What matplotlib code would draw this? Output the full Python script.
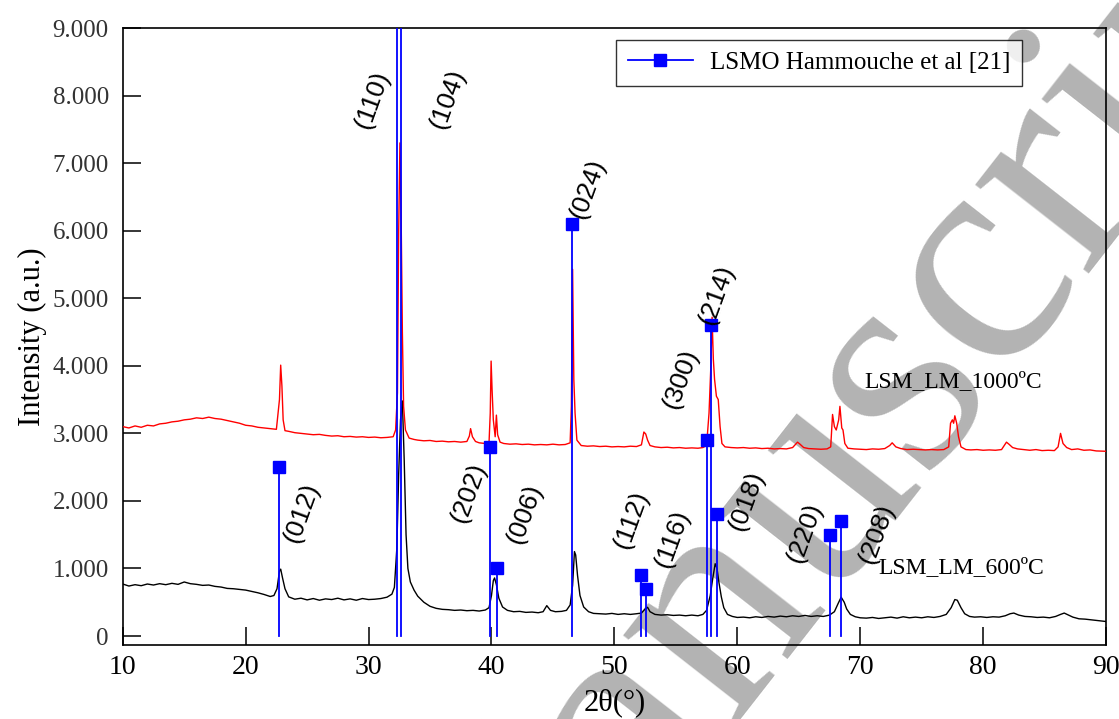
import matplotlib
matplotlib.use("Agg")
import matplotlib.pyplot as plt
from matplotlib.ticker import FuncFormatter

# LSM_LM_600ºC pattern (2theta, intensity)
two_theta_600 = [10.0, 10.5, 11.0, 11.5, 12.0, 12.5, 13.0, 13.5, 14.0, 14.5, 15.0, 15.5, 16.0, 16.5,
                 17.0, 17.5, 18.0, 18.5, 19.0, 19.5, 20.0, 20.5, 21.0, 21.5, 22.0, 22.3, 22.55, 22.75,
                 22.85, 23.0, 23.2, 23.5, 24.0, 24.5, 25.0, 25.5, 26.0, 26.5, 27.0, 27.5, 28.0, 28.5,
                 29.0, 29.5, 30.0, 30.5, 31.0, 31.5, 31.9, 32.1, 32.3, 32.45, 32.6, 32.75, 32.9, 33.05,
                 33.2, 33.4, 33.7, 34.0, 34.5, 35.0, 35.5, 36.0, 36.5, 37.0, 37.5, 38.0, 38.5, 39.0,
                 39.5, 39.8, 40.0, 40.15, 40.25, 40.4, 40.6, 40.9, 41.3, 41.8, 42.3, 42.8, 43.3, 43.8,
                 44.2, 44.5, 44.8, 45.2, 45.7, 46.1, 46.4, 46.6, 46.75, 46.85, 47.0, 47.2, 47.5, 47.9,
                 48.3, 48.8, 49.3, 49.8, 50.3, 50.8, 51.3, 51.8, 52.2, 52.5, 52.7, 52.9, 53.3, 53.8,
                 54.3, 54.8, 55.3, 55.8, 56.3, 56.8, 57.2, 57.5, 57.8, 58.0, 58.2, 58.35, 58.5, 58.7,
                 58.9, 59.2, 59.6, 60.0, 60.5, 61.0, 61.5, 62.0, 62.5, 63.0, 63.5, 64.0, 64.5, 65.0,
                 65.5, 66.0, 66.5, 67.0, 67.5, 67.9, 68.2, 68.45, 68.7, 68.9, 69.2, 69.6, 70.0, 70.5,
                 71.0, 71.5, 72.0, 72.5, 73.0, 73.5, 74.0, 74.5, 75.0, 75.5, 76.0, 76.5, 77.0, 77.4,
                 77.7, 77.9, 78.2, 78.5, 78.9, 79.3, 79.8, 80.3, 80.8, 81.3, 81.8, 82.2, 82.5, 82.9,
                 83.4, 83.9, 84.4, 84.9, 85.4, 85.9, 86.3, 86.6, 86.9, 87.3, 87.8, 88.3, 88.8, 89.3,
                 90.0]
intensity_600 = [770, 740, 760, 745, 770, 755, 775, 760, 780, 765, 800, 775, 765, 750,
                 755, 735, 725, 705, 700, 690, 680, 660, 640, 615, 585, 600, 700, 960,
                 990, 860, 700, 580, 545, 560, 535, 555, 530, 550, 540, 560, 535, 550,
                 530, 555, 540, 545, 555, 575, 620, 720, 1300, 2400, 3200, 3480, 2600, 1500,
                 1000, 800, 680, 590, 500, 440, 410, 395, 390, 380, 385, 375, 380, 370,
                 385, 420, 600, 820, 860, 760, 560, 430, 380, 360, 365, 350, 355, 345,
                 360, 450, 380, 360, 365, 380, 460, 750, 1250, 1200, 900, 600, 430, 360,
                 335, 330, 325, 335, 320, 330, 320, 330, 340, 400, 425, 360, 320, 310,
                 315, 305, 310, 300, 310, 300, 320, 380, 600, 850, 1070, 1000, 800, 580,
                 420, 320, 290, 275, 280, 270, 285, 275, 290, 280, 295, 285, 300, 290,
                 305, 290, 300, 290, 310, 360, 480, 575, 500, 400, 320, 285, 270, 265,
                 275, 260, 270, 280, 265, 285, 270, 280, 270, 285, 275, 290, 320, 420,
                 540, 530, 420, 330, 290, 280, 285, 275, 285, 280, 300, 330, 340, 310,
                 290, 285, 275, 280, 270, 290, 320, 340, 315, 280, 255, 250, 240, 230,
                 215]

# LSM_LM_1000ºC pattern
two_theta_1000 = [10.0, 10.5, 11.0, 11.5, 12.0, 12.5, 13.0, 13.5, 14.0, 14.5, 15.0, 15.5, 16.0, 16.5,
                  17.0, 17.5, 18.0, 18.5, 19.0, 19.5, 20.0, 20.5, 21.0, 21.5, 22.0, 22.5, 22.75, 22.85,
                  22.95, 23.05, 23.2, 23.5, 24.0, 24.5, 25.0, 25.5, 26.0, 26.5, 27.0, 27.5, 28.0, 28.5,
                  29.0, 29.5, 30.0, 30.5, 31.0, 31.5, 32.0, 32.2, 32.35, 32.45, 32.55, 32.65, 32.75, 32.85,
                  33.0, 33.3, 33.7, 34.0, 34.5, 35.0, 35.5, 36.0, 36.5, 37.0, 37.5, 38.0, 38.2, 38.3,
                  38.45, 38.7, 39.0, 39.5, 39.8, 39.9, 39.97, 40.05, 40.15, 40.3, 40.4, 40.5, 40.7, 41.0,
                  41.5, 42.0, 42.5, 43.0, 43.5, 44.0, 44.5, 45.0, 45.5, 46.0, 46.4, 46.5, 46.6, 46.7,
                  46.8, 46.95, 47.3, 47.8, 48.3, 48.8, 49.3, 49.8, 50.3, 50.8, 51.3, 51.8, 52.2, 52.4,
                  52.55, 52.7, 52.9, 53.3, 53.8, 54.3, 54.8, 55.3, 55.8, 56.3, 56.8, 57.2, 57.5, 57.7,
                  57.85, 57.95, 58.05, 58.15, 58.3, 58.45, 58.6, 58.75, 59.0, 59.5, 60.0, 60.5, 61.0, 61.5,
                  62.0, 62.5, 63.0, 63.5, 64.0, 64.5, 64.9, 65.1, 65.4, 65.8, 66.3, 66.8, 67.3, 67.6,
                  67.75, 67.9, 68.05, 68.25, 68.35, 68.5, 68.6, 68.75, 69.0, 69.5, 70.0, 70.5, 71.0, 71.5,
                  72.0, 72.4, 72.6, 72.9, 73.3, 73.8, 74.3, 74.8, 75.3, 75.8, 76.3, 76.8, 77.2, 77.35,
                  77.5, 77.6, 77.7, 77.85, 78.0, 78.2, 78.6, 79.0, 79.5, 80.0, 80.5, 81.0, 81.5, 81.9,
                  82.1, 82.4, 82.8, 83.3, 83.8, 84.3, 84.8, 85.3, 85.8, 86.1, 86.3, 86.5, 86.8, 87.2,
                  87.7, 88.2, 88.7, 89.2, 90.0]
intensity_1000 = [3100, 3080, 3110, 3090, 3120, 3110, 3140, 3150, 3170, 3180, 3200, 3210, 3230, 3220,
                  3240, 3220, 3210, 3190, 3170, 3150, 3120, 3110, 3090, 3080, 3070, 3060, 3500, 4010,
                  3700, 3200, 3040, 3030, 3010, 3000, 2990, 2980, 2985, 2970, 2960, 2965, 2950, 2955,
                  2945, 2950, 2940, 2945, 2935, 2940, 2950, 3050, 3600, 6000, 7300, 6200, 4500, 3400,
                  3050, 2930, 2910, 2900, 2890, 2895, 2880, 2885, 2875, 2880, 2870, 2880, 2960, 3070,
                  2950, 2880, 2860, 2850, 2860, 3300, 4070, 3640, 3200, 2950, 3270, 2980, 2870, 2850,
                  2840, 2845, 2835, 2840, 2830, 2835, 2830, 2840, 2830, 2835, 2860, 3400, 5430, 3800,
                  3300, 2900, 2820, 2810, 2815, 2805, 2810, 2800, 2805, 2800, 2810, 2805, 2830, 3020,
                  2990, 2900, 2820, 2800, 2790, 2795, 2785, 2790, 2780, 2785, 2780, 2790, 2820, 3300,
                  4000, 4720, 4100, 3800, 3550, 3500, 3100, 2850, 2800, 2790, 2785, 2790, 2780, 2785,
                  2775, 2780, 2770, 2775, 2770, 2790, 2870, 2840, 2790, 2775, 2770, 2765, 2770, 2800,
                  3280, 3100, 3050, 3200, 3400, 3080, 3050, 2850, 2780, 2770, 2765, 2760, 2770, 2765,
                  2775, 2820, 2860, 2800, 2775, 2760, 2765, 2760, 2755, 2760, 2755, 2760, 2800, 3150,
                  3200, 3150, 3260, 3150, 2950, 2800, 2760, 2755, 2760, 2750, 2755, 2750, 2760, 2870,
                  2840, 2790, 2770, 2760, 2750, 2760, 2745, 2750, 2745, 2800, 3000, 2850, 2790, 2760,
                  2770, 2750, 2755, 2740, 2735]

# reference reflections (LSMO Hammouche et al)
ref_pos = [22.73, 32.33, 32.60, 39.86, 40.41, 46.59, 52.20, 52.60, 57.50, 57.83, 58.34, 67.56, 68.40]
ref_int = [2500, 10000, 10000, 2800, 1000, 6100, 900, 700, 2900, 4600, 1800, 1500, 1700]

# hkl labels and where they sit
hkl_labels = ["(110)", "(104)", "(024)", "(012)", "(202)", "(006)", "(112)",
              "(116)", "(300)", "(214)", "(018)", "(220)", "(208)"]
hkl_x = [30.27, 36.41, 47.79, 24.55, 38.15, 42.71, 51.38, 54.70, 55.37, 58.32, 60.80, 65.47, 71.37]
hkl_y = [7941, 7956, 6622, 1830, 2119, 1807, 1719, 1437, 3807, 5052, 2000, 1526, 1511]

serif = ["Liberation Serif", "DejaVu Serif"]
sans = ["Liberation Sans", "DejaVu Sans"]

fig = plt.figure(figsize=(11.19, 7.19), dpi=100)
ax = fig.add_axes([0.1097, 0.1029, 0.8787, 0.8581])
ax.patch.set_alpha(0)

# grey watermark behind the plot
fig.text(-0.2658, -1.850, "Accepted Manuscript", family=serif, fontsize=225,
         color="#b3b3b3", rotation=52, rotation_mode="anchor",
         ha="left", va="baseline", zorder=-5)

ax.plot(two_theta_600, intensity_600, color="black", lw=1.0, zorder=3)
ax.plot(two_theta_1000, intensity_1000, color="red", lw=1.0, zorder=3)

# stems with square markers
for p, h in zip(ref_pos, ref_int):
    ax.plot([p, p], [0, h], color="blue", lw=1.3, zorder=4)
ax.plot(ref_pos, ref_int, "s", color="blue", ms=8.5, zorder=5)
ax.plot([], [], "-s", color="blue", ms=8.5, lw=1.3, label="LSMO Hammouche et al [21]")

for lab, lx, ly in zip(hkl_labels, hkl_x, hkl_y):
    ax.text(lx, ly, lab, family=sans, fontsize=19, rotation=70,
            rotation_mode="anchor", ha="center", va="center", zorder=6)

ax.text(70.3, 3763, "LSM_LM_1000ºC", family=serif, fontsize=17, va="center", zorder=6)
ax.text(71.5, 1007, "LSM_LM_600ºC", family=serif, fontsize=17, va="center", zorder=6)

leg = ax.legend(loc="upper right", bbox_to_anchor=(0.9146, 0.9805), borderaxespad=0,
                prop={"family": serif, "size": 18}, frameon=True, fancybox=False,
                handlelength=2.6, handletextpad=0.7, borderpad=0.46)
leg.get_frame().set_edgecolor("black")
leg.get_frame().set_linewidth(1.0)

ax.set_xlim(10, 90)
ax.set_ylim(-133, 9000)
ax.set_xticks(range(10, 91, 10))
ax.set_yticks(range(0, 9001, 1000))
ax.yaxis.set_major_formatter(FuncFormatter(lambda v, p: "0" if v == 0 else f"{int(v/1000)}.000"))
ax.tick_params(direction="in", length=13, width=1.1, top=False, right=False)
ax.tick_params(axis="y", labelcolor="#333333", pad=10)
ax.tick_params(axis="x", pad=7)
for t in ax.get_yticklabels():
    t.set_family(serif)
    t.set_fontsize(18)
for t in ax.get_xticklabels():
    t.set_family(serif)
    t.set_fontsize(20)
for s in ax.spines.values():
    s.set_linewidth(1.2)

ax.set_xlabel("2θ(°)", family=serif, fontsize=22, labelpad=6)
ax.set_ylabel("Intensity (a.u.)", family=serif, fontsize=22, labelpad=4)

fig.savefig("out.png", dpi=100)
